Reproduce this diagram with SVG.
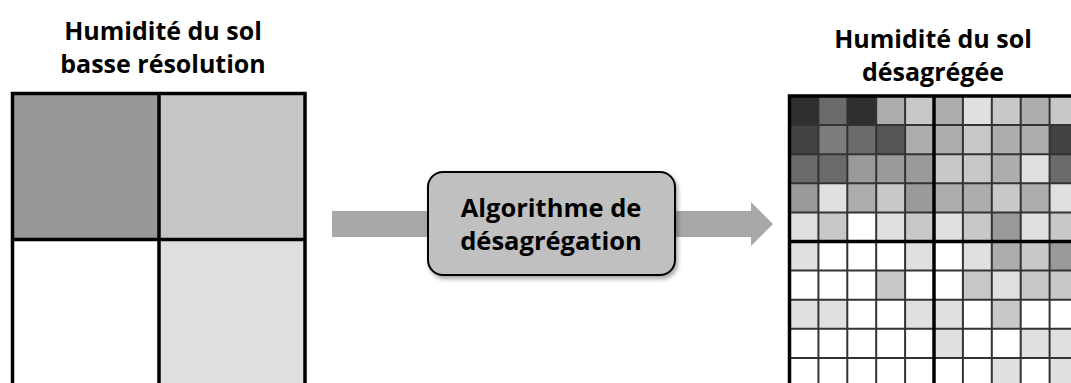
<svg xmlns="http://www.w3.org/2000/svg" width="1071" height="383" viewBox="0 0 1071 383">
<defs>
<style>
.t{font-family:"Open Sans","Liberation Sans",sans-serif;font-weight:700;font-size:25px;fill:#000;text-anchor:middle}
.b{font-size:25.5px}
.g0{fill:#ffffff}.g1{fill:#e0e0e0}.g2{fill:#c8c8c8}.g3{fill:#adadad}.g4{fill:#9a9a9a}.gA{fill:#7c7c7c}.g5{fill:#6b6b6b}.g6{fill:#555555}.g7{fill:#424242}.g8{fill:#2f2f2f}
.thick{stroke:#000;stroke-width:3.5;fill:none}
.thin{stroke:#333;stroke-width:2;fill:none}
.c rect{width:28.9px;height:29.1px}
</style>
<filter id="sh" x="-10%" y="-10%" width="130%" height="140%">
<feDropShadow dx="2" dy="3" stdDeviation="2" flood-color="#000" flood-opacity="0.35"/>
</filter>
</defs>
<rect width="1071" height="383" fill="#fff"/>

<g id="title-left">
<text class="t" x="163" y="40">Humidité du sol</text>
<text class="t" x="163" y="73">basse résolution</text>
</g>

<g id="title-right">
<text class="t" x="933" y="48">Humidité du sol</text>
<text class="t" x="933" y="81">désagrégée</text>
</g>

<g id="low-res-grid">
<rect x="12.5" y="93.5" width="146.5" height="146" fill="#989898"/>
<rect x="159" y="93.5" width="146" height="146" fill="#c6c6c6"/>
<rect x="12.5" y="239.5" width="146.5" height="146" fill="#ffffff"/>
<rect x="159" y="239.5" width="146" height="146" fill="#dfdfdf"/>
<path class="thick" d="M12.5 390V93.5H305V390M159 93.5V390M12.5 239.5H305"/>
</g>

<g id="connectors">
<path d="M332 211H751V202L773 224L751 246V237H332Z" fill="#a8a8a8"/>
</g>

<g id="algorithm">
<rect x="428" y="172" width="247" height="103" rx="15" fill="#c0c0c0" stroke="#000" stroke-width="2" filter="url(#sh)"/>
<text class="t b" x="551" y="217">Algorithme de</text>
<text class="t b" x="551" y="250">désagrégation</text>
</g>

<g id="high-res-grid" class="c">
<g transform="translate(0,96)"><rect x="789.5" class="g8"/><rect x="818.4" class="g5"/><rect x="847.3" class="g8"/><rect x="876.2" class="g3"/><rect x="905.1" class="g2"/><rect x="934" class="g3"/><rect x="962.9" class="g1"/><rect x="991.8" class="g2"/><rect x="1020.7" class="g3"/><rect x="1049.6" class="g2"/></g>
<g transform="translate(0,125.1)"><rect x="789.5" class="g7"/><rect x="818.4" class="gA"/><rect x="847.3" class="g5"/><rect x="876.2" class="g6"/><rect x="905.1" class="g3"/><rect x="934" class="g3"/><rect x="962.9" class="g2"/><rect x="991.8" class="g3"/><rect x="1020.7" class="g3"/><rect x="1049.6" class="g7"/></g>
<g transform="translate(0,154.2)"><rect x="789.5" class="g5"/><rect x="818.4" class="g5"/><rect x="847.3" class="g4"/><rect x="876.2" class="g4"/><rect x="905.1" class="g4"/><rect x="934" class="g2"/><rect x="962.9" class="g2"/><rect x="991.8" class="g3"/><rect x="1020.7" class="g1"/><rect x="1049.6" class="g5"/></g>
<g transform="translate(0,183.3)"><rect x="789.5" class="g4"/><rect x="818.4" class="g1"/><rect x="847.3" class="g3"/><rect x="876.2" class="g2"/><rect x="905.1" class="g4"/><rect x="934" class="g3"/><rect x="962.9" class="g3"/><rect x="991.8" class="g2"/><rect x="1020.7" class="g3"/><rect x="1049.6" class="g1"/></g>
<g transform="translate(0,212.4)"><rect x="789.5" class="g1"/><rect x="818.4" class="g2"/><rect x="847.3" class="g0"/><rect x="876.2" class="g1"/><rect x="905.1" class="g2"/><rect x="934" class="g1"/><rect x="962.9" class="g2"/><rect x="991.8" class="g4"/><rect x="1020.7" class="g1"/><rect x="1049.6" class="g2"/></g>
<g transform="translate(0,241.5)"><rect x="789.5" class="g1"/><rect x="818.4" class="g0"/><rect x="847.3" class="g0"/><rect x="876.2" class="g0"/><rect x="905.1" class="g1"/><rect x="934" class="g0"/><rect x="962.9" class="g1"/><rect x="991.8" class="g3"/><rect x="1020.7" class="g2"/><rect x="1049.6" class="g4"/></g>
<g transform="translate(0,270.6)"><rect x="789.5" class="g0"/><rect x="818.4" class="g0"/><rect x="847.3" class="g0"/><rect x="876.2" class="g2"/><rect x="905.1" class="g0"/><rect x="934" class="g0"/><rect x="962.9" class="g2"/><rect x="991.8" class="g1"/><rect x="1020.7" class="g2"/><rect x="1049.6" class="g2"/></g>
<g transform="translate(0,299.7)"><rect x="789.5" class="g1"/><rect x="818.4" class="g1"/><rect x="847.3" class="g0"/><rect x="876.2" class="g0"/><rect x="905.1" class="g1"/><rect x="934" class="g1"/><rect x="962.9" class="g0"/><rect x="991.8" class="g2"/><rect x="1020.7" class="g0"/><rect x="1049.6" class="g0"/></g>
<g transform="translate(0,328.8)"><rect x="789.5" class="g0"/><rect x="818.4" class="g0"/><rect x="847.3" class="g0"/><rect x="876.2" class="g0"/><rect x="905.1" class="g0"/><rect x="934" class="g1"/><rect x="962.9" class="g0"/><rect x="991.8" class="g0"/><rect x="1020.7" class="g1"/><rect x="1049.6" class="g1"/></g>
<g transform="translate(0,357.9)"><rect x="789.5" class="g0"/><rect x="818.4" class="g0"/><rect x="847.3" class="g0"/><rect x="876.2" class="g0"/><rect x="905.1" class="g0"/><rect x="934" class="g0"/><rect x="962.9" class="g0"/><rect x="991.8" class="g1"/><rect x="1020.7" class="g0"/><rect x="1049.6" class="g1"/></g>
<path class="thin" d="M818.4 96V390M847.3 96V390M876.2 96V390M905.1 96V390M962.9 96V390M991.8 96V390M1020.7 96V390M1049.6 96V390M789.5 125.1H1075M789.5 154.2H1075M789.5 183.3H1075M789.5 212.4H1075M789.5 270.6H1075M789.5 299.7H1075M789.5 328.8H1075M789.5 357.9H1075"/>
<path class="thick" d="M789.5 390V96H1075M934 96V390M789.5 241.5H1075"/>
</g>
</svg>
